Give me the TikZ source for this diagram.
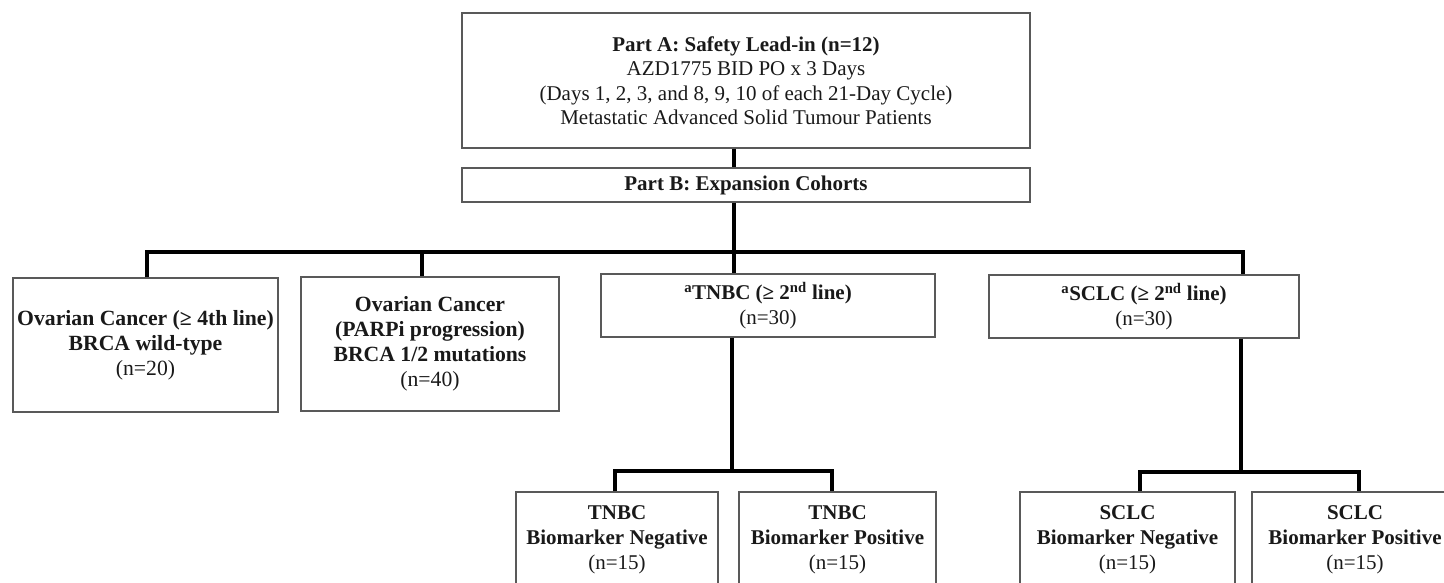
\documentclass[tikz,border=0pt]{standalone}
\usepackage{fontspec}
\setmainfont{Liberation Serif}
\begin{document}
\begin{tikzpicture}[x=1pt,y=-1pt,
  box/.style={draw=black!65, line width=1.3pt, align=center, inner sep=2pt,
    font=\fontsize{21}{25}\selectfont, text=black!90},
  topbox/.style={box, font=\fontsize{21}{24.5}\selectfont},
  ovbox/.style={box, font=\fontsize{21.7}{25}\selectfont},
  conn/.style={draw=black, line width=4pt, line join=miter, line cap=butt}]
\useasboundingbox (0,0) rectangle (1444,583);
\clip (0,0) rectangle (1444,583);
% top boxes
\node[topbox, minimum width=568pt, minimum height=135pt] (A) at (746,80.5)
  {\textbf{Part A: Safety Lead-in (n=12)}\\AZD1775 BID PO x 3 Days\\(Days 1, 2, 3, and 8, 9, 10 of each 21-Day Cycle)\\Metastatic Advanced Solid Tumour Patients};
\node[topbox, minimum width=568pt, minimum height=34pt] (B) at (746,185)
  {\textbf{Part B: Expansion Cohorts}};
% level 2
\node[ovbox, minimum width=265pt, minimum height=134pt] (O1) at (145.5,345)
  {\textbf{Ovarian Cancer (≥ 4th line)}\\\textbf{BRCA wild-type}\\(n=20)};
\node[ovbox, minimum width=258pt, minimum height=134pt] (O2) at (430,344)
  {\textbf{Ovarian Cancer}\\\textbf{(PARPi progression)}\\\textbf{BRCA 1/2 mutations}\\(n=40)};
\node[box, minimum width=334pt, minimum height=63pt] (T) at (768,305.5)
  {\textbf{\textsuperscript{a}TNBC (≥ 2\textsuperscript{nd} line)}\\(n=30)};
\node[box, minimum width=310pt, minimum height=63pt] (S) at (1144,306.5)
  {\textbf{\textsuperscript{a}SCLC (≥ 2\textsuperscript{nd} line)}\\(n=30)};
% level 3
\node[box, minimum width=202pt, minimum height=96pt] (TN) at (617,540)
  {\textbf{TNBC}\\\textbf{Biomarker Negative}\\(n=15)};
\node[box, minimum width=197pt, minimum height=96pt] (TP) at (837.5,540)
  {\textbf{TNBC}\\\textbf{Biomarker Positive}\\(n=15)};
\node[box, minimum width=215pt, minimum height=96pt] (SN) at (1127.5,540)
  {\textbf{SCLC}\\\textbf{Biomarker Negative}\\(n=15)};
\node[box, minimum width=206pt, minimum height=96pt] (SP) at (1355,540)
  {\textbf{SCLC}\\\textbf{Biomarker Positive}\\(n=15)};
% junction coordinates
\coordinate (jc) at (734,252);
\coordinate (jl) at (147,252);
\coordinate (j2) at (422,252);
\coordinate (jr) at (1243,252);
\coordinate (tj) at (732,471);
\coordinate (tl) at (615,471);
\coordinate (tr) at (832,471);
\coordinate (sj) at (1241,472);
\coordinate (sl) at (1140,472);
\coordinate (sr) at (1359,472);
% connectors
\draw[conn] (A.south -| jc) -- (B.north -| jc);
\draw[conn] (B.south -| jc) -- (T.north -| jc);
\draw[conn] (jl |- O1.north) -- (jl) -- (jr) -- (jr |- S.north);
\draw[conn] (j2) -- (j2 |- O2.north);
\draw[conn] (T.south -| tj) -- (tj);
\draw[conn] (tl |- TN.north) -- (tl) -- (tr) -- (tr |- TP.north);
\draw[conn] (S.south -| sj) -- (sj);
\draw[conn] (sl |- SN.north) -- (sl) -- (sr) -- (sr |- SP.north);
\end{tikzpicture}
\end{document}
